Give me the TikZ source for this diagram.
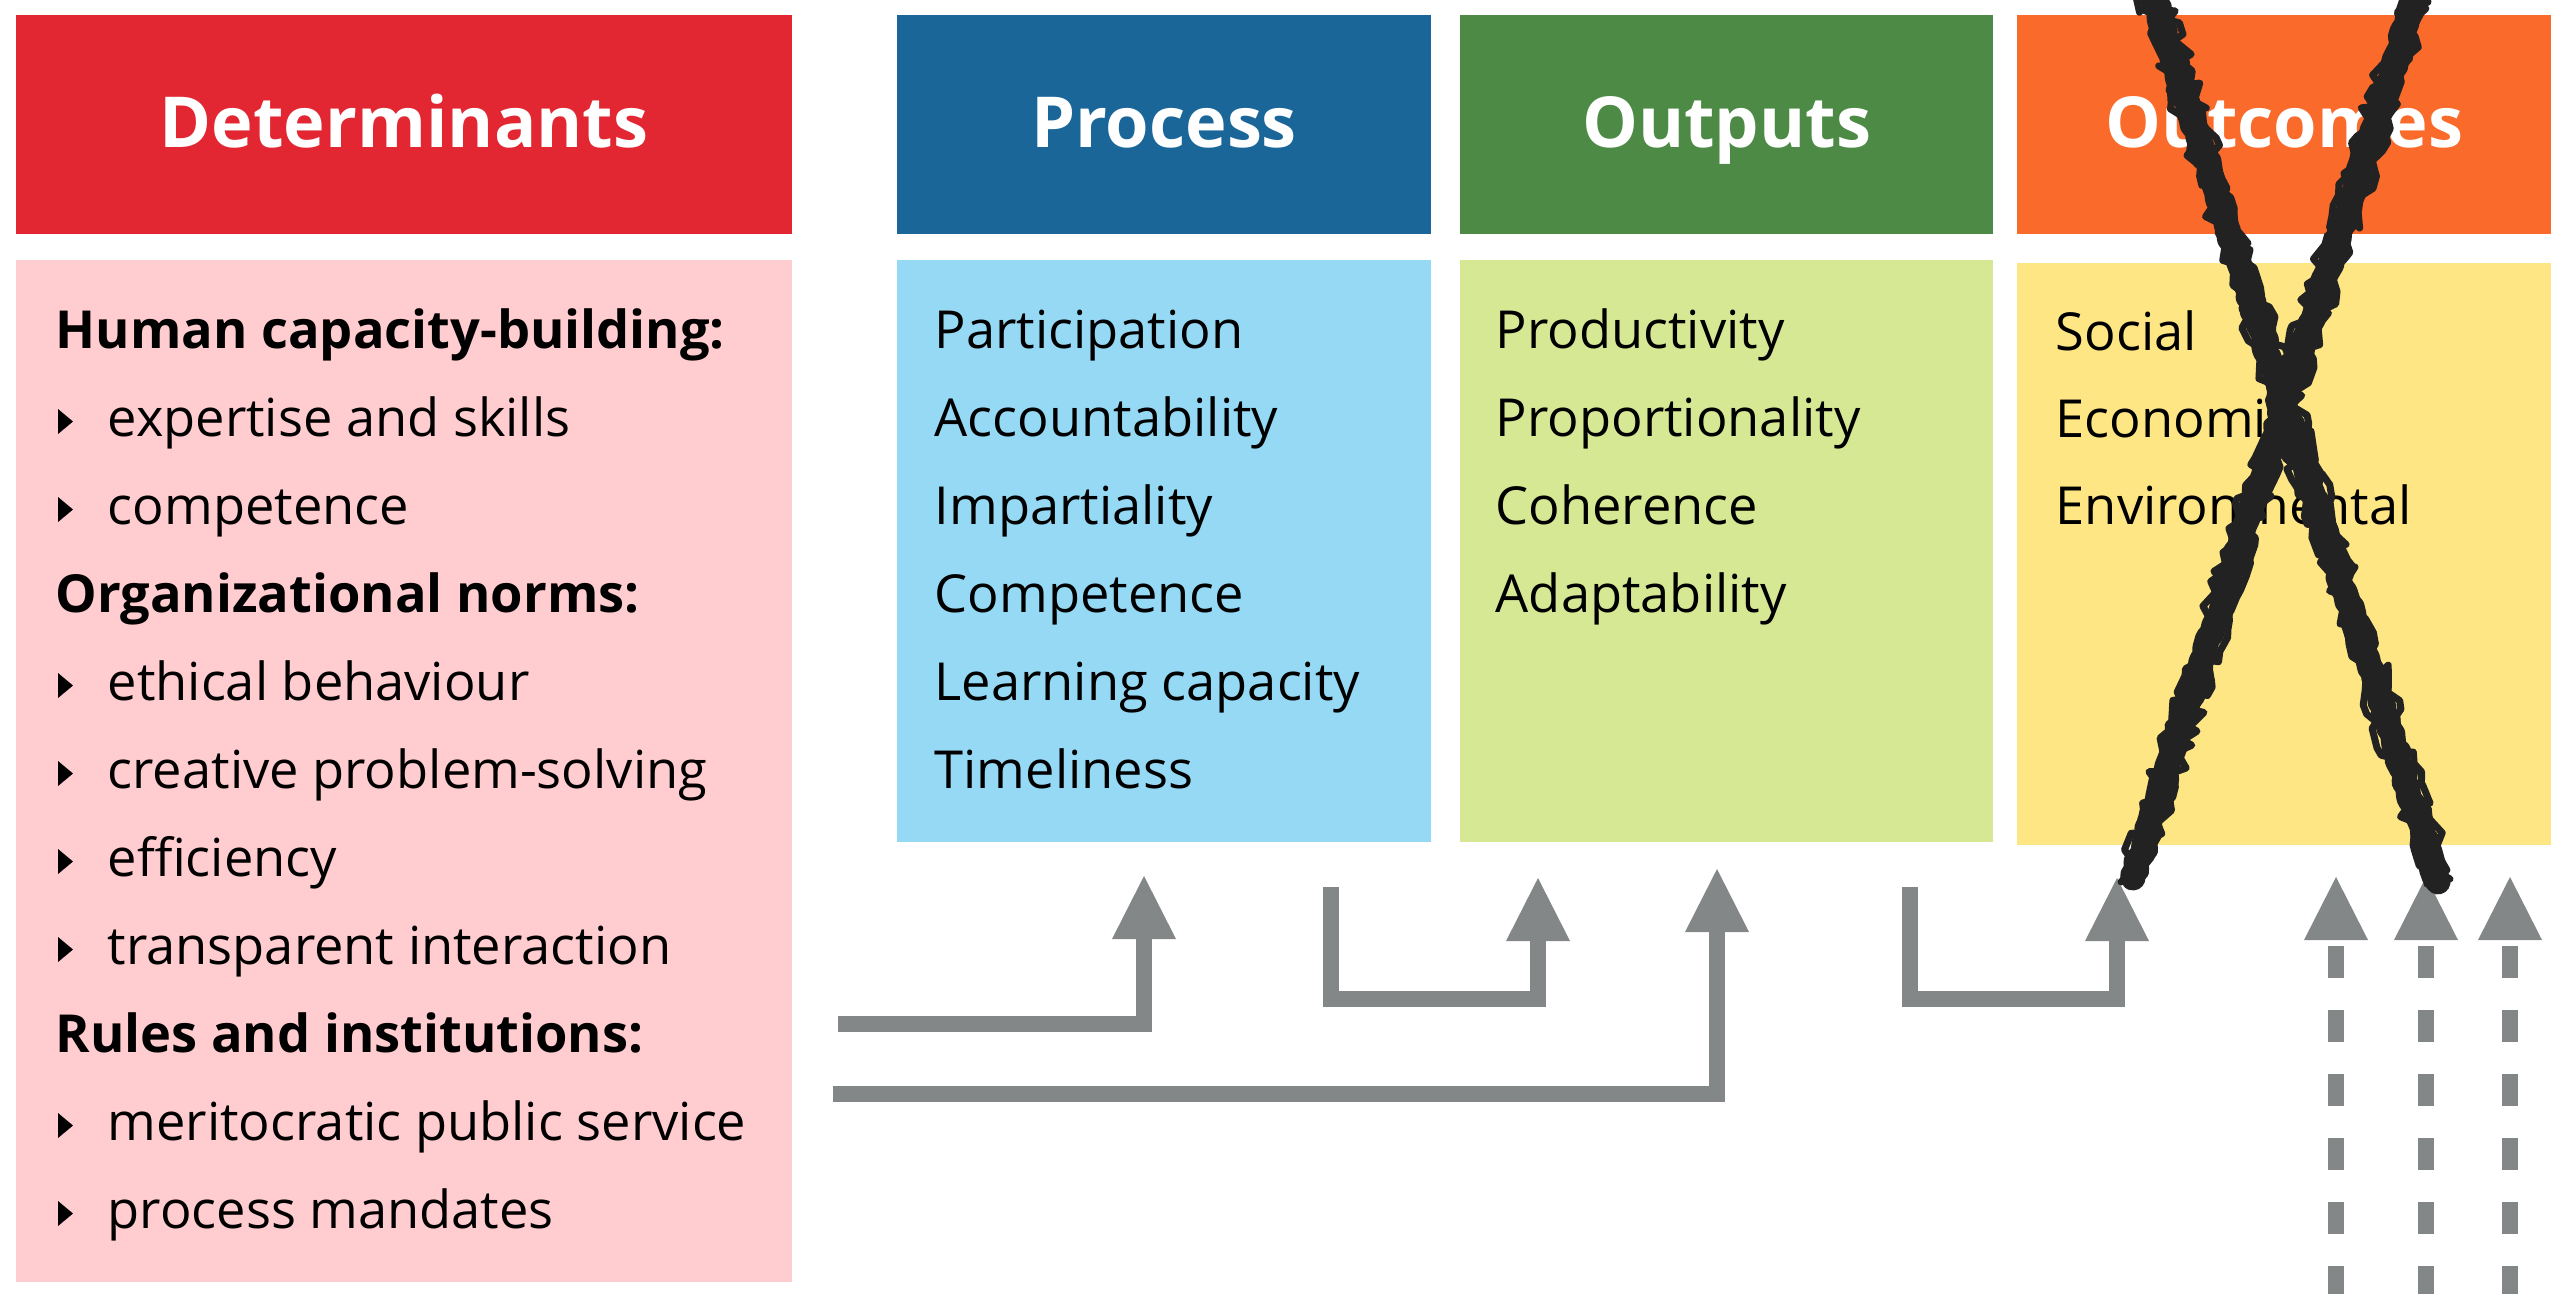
\documentclass[tikz,border=0pt]{standalone}
\usepackage{fontspec}
\setmainfont{Open Sans}
\usetikzlibrary{arrows.meta,decorations.pathmorphing}

\definecolor{detred}{HTML}{E22733}
\definecolor{detpink}{HTML}{FFCCD0}
\definecolor{problue}{HTML}{1A6699}
\definecolor{prosky}{HTML}{96D9F5}
\definecolor{outgreen}{HTML}{4C8A45}
\definecolor{outlime}{HTML}{D7E895}
\definecolor{ocorange}{HTML}{F96A2B}
\definecolor{ocyellow}{HTML}{FEE685}
\definecolor{flowgrey}{HTML}{848788}
\definecolor{crossink}{HTML}{222222}

\newcommand{\bodyfont}{\fontsize{14.9}{18}\selectfont}
\newcommand{\headfont}{\fontsize{20}{24}\selectfont\bfseries}
% small right-pointing bullet, #1 = baseline
\newcommand{\bul}[1]{\fill (58,#1-27) -- (73,#1-14.5) -- (58,#1-2) -- cycle;}

\tikzset{
  head/.style={minimum width=5.34cm, minimum height=2.19cm, inner sep=0pt,
    text=white, font=\headfont, text height=0.5cm, text depth=0.05cm},
  panel/.style={minimum width=5.34cm, minimum height=5.82cm, inner sep=0pt},
  item/.style={anchor=base west, inner sep=0pt, font=\bodyfont},
  flow/.style={draw=flowgrey, line width=0.16cm,
    -{Triangle[length=0.63cm, width=0.64cm, line width=0pt]}},
  feed/.style={flow, dash pattern=on 0.32cm off 0.32cm, dash phase=0.32cm},
  cross/.style={draw=crossink, line cap=round, line join=round, decorate,
    decoration={random steps, segment length=2pt, amplitude=0.7pt}},
  rough/.style={cross, line width=0.07cm,
    decoration={random steps, segment length=2.5pt, amplitude=2pt}}
}

\begin{document}
\begin{tikzpicture}[x=0.01cm, y=-0.01cm]
\useasboundingbox (0,0) rectangle (2566,1293);

% headers and panels
\node[head, fill=detred, minimum width=7.76cm] (dethead) at (404,124.5) {Determinants};
\node[panel, fill=detpink, minimum width=7.76cm, minimum height=10.22cm] (detbody) at (404,771) {};
\node[head, fill=problue] (prohead) at (1164,124.5) {Process};
\node[panel, fill=prosky] (probody) at (1164,551) {};
\node[head, fill=outgreen, minimum width=5.33cm] (outhead) at (1726.5,124.5) {Outputs};
\node[panel, fill=outlime, minimum width=5.33cm] (outbody) at (1726.5,551) {};
\node[head, fill=ocorange] (ochead) at (2284,124.5) {Outcomes};
\node[panel, fill=ocyellow] (ocbody) at (2284,554) {};

% determinants list
\foreach \k/\t in {0/Human capacity-building:, 3/Organizational norms:, 8/Rules and institutions:}
  \node[item, font=\bodyfont\bfseries] (det\k) at (55,348+88*\k) {\t};
\foreach \k/\t in {1/expertise and skills, 2/competence, 4/ethical behaviour,
    5/creative problem-solving, 6/efficiency, 7/transparent interaction,
    9/meritocratic public service, 10/process mandates} {
  \bul{348+88*\k}
  \node[item] (det\k) at (107,348+88*\k) {\t};
}

\foreach \t [count=\k from 0] in {Participation, Accountability, Impartiality,
    Competence, Learning capacity, Timeliness}
  \node[item] (pro\k) at (934,348+88*\k) {\t};
\foreach \t [count=\k from 0] in {Productivity, Proportionality, Coherence, Adaptability}
  \node[item] (out\k) at (1495,348+88*\k) {\t};
\foreach \t [count=\k from 0] in {Social, Economic, Environmental}
  \node[item] (oc\k) at (2055,350+87*\k) {\t};

% connectors
\coordinate (f1a) at (838,1024);  \coordinate (f1b) at (1144,876);
\coordinate (f2a) at (1331,887);  \coordinate (f2b) at (1538,878);
\coordinate (f3a) at (833,1094);  \coordinate (f3b) at (1717,869);
\coordinate (f4a) at (1910,887);  \coordinate (f4b) at (2117,878);
\draw[flow] (f1a) -| (f1b);
\draw[flow] (f2a) -- ++(0,112) -| (f2b);
\draw[flow] (f3a) -| (f3b);
\draw[flow] (f4a) -- ++(0,112) -| (f4b);

\foreach \x [count=\i] in {2336,2426,2510} {
  \coordinate (e\i a) at (\x,1330);
  \coordinate (e\i b) at (\x,877);
  \draw[feed] (e\i a) -- (e\i b);
}

% crossed out
\pgfmathsetseed{17}
\draw[cross, line width=0.25cm] (2145,-30) -- (2438,882);
\draw[cross, line width=0.25cm] (2424,-30) -- (2133,878);
\draw[rough] (2133,-30) -- (2427,884) (2157,-30) -- (2450,879) (2141,-30) -- (2440,888);
\draw[rough] (2436,-30) -- (2145,874) (2412,-30) -- (2121,882) (2428,-30) -- (2130,886);
\end{tikzpicture}
\end{document}
